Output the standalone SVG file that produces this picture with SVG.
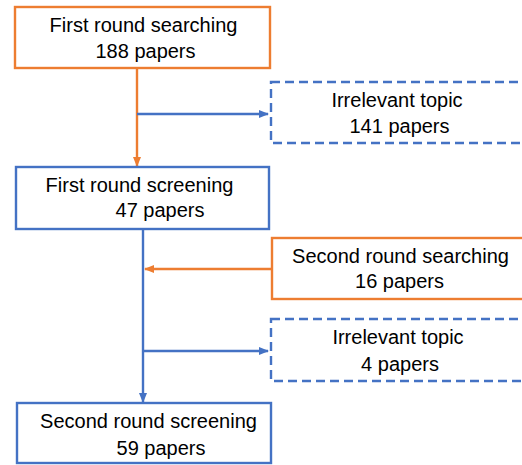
<svg xmlns="http://www.w3.org/2000/svg" width="522" height="465" viewBox="0 0 522 465">
<defs>
<marker id="ab" markerWidth="10" markerHeight="10" refX="9" refY="5" orient="auto" markerUnits="userSpaceOnUse"><path d="M0,1 L10,5 L0,9 Z" fill="#4472C4"/></marker>
<marker id="ao" markerWidth="10" markerHeight="10" refX="9" refY="5" orient="auto" markerUnits="userSpaceOnUse"><path d="M0,1 L10,5 L0,9 Z" fill="#ED7D31"/></marker>
</defs>
<style>
.o{fill:#fff;stroke:#ED7D31;stroke-width:2.4}
.b{fill:#fff;stroke:#4472C4;stroke-width:2.4}
.d{fill:#fff;stroke:#4472C4;stroke-width:2.4;stroke-dasharray:9 5}
text{font-family:"Liberation Sans",Arial,sans-serif;font-size:20px;fill:#000;text-anchor:middle}
.lo{stroke:#ED7D31;stroke-width:2.4;fill:none}
.lb{stroke:#4472C4;stroke-width:2.4;fill:none}
</style>
<rect width="522" height="465" fill="#fff"/>
<g id="connectors">
<line class="lo" x1="137" y1="68" x2="137" y2="166" marker-end="url(#ao)"/>
<line class="lb" x1="137" y1="114" x2="268" y2="114" marker-end="url(#ab)"/>
<line class="lb" x1="143" y1="229" x2="143" y2="402" marker-end="url(#ab)"/>
<line class="lo" x1="272" y1="269" x2="145" y2="269" marker-end="url(#ao)"/>
<line class="lb" x1="143" y1="351" x2="268" y2="351" marker-end="url(#ab)"/>
</g>
<g id="n1">
<rect class="o" x="15" y="7" width="255" height="61"/>
<text x="143.5" y="32">First round searching</text>
<text x="145.5" y="58">188 papers</text>
</g>
<g id="n2">
<rect class="d" x="271" y="82" width="262" height="61"/>
<text x="397" y="107">Irrelevant topic</text>
<text x="399.5" y="133">141 papers</text>
</g>
<g id="n3">
<rect class="b" x="16" y="167" width="253" height="62"/>
<text x="139.5" y="192">First round screening</text>
<text x="160" y="217">47 papers</text>
</g>
<g id="n4">
<rect class="o" x="272" y="238" width="262" height="61"/>
<text x="400.5" y="263">Second round searching</text>
<text x="399.5" y="288">16 papers</text>
</g>
<g id="n5">
<rect class="d" x="271" y="319" width="262" height="62"/>
<text x="398" y="344">Irrelevant topic</text>
<text x="400" y="371">4 papers</text>
</g>
<g id="n6">
<rect class="b" x="17" y="403" width="254" height="60"/>
<text x="148.5" y="428">Second round screening</text>
<text x="161" y="455">59 papers</text>
</g>
</svg>
